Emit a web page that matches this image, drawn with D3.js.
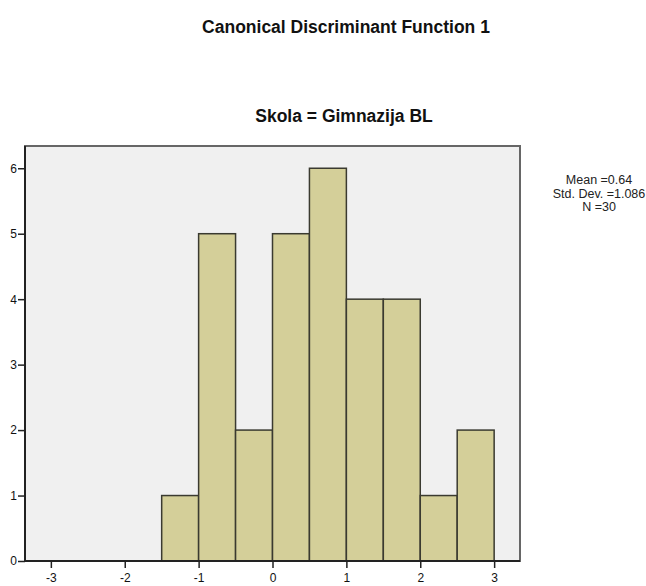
<!DOCTYPE html>
<html><head><meta charset="utf-8">
<script src="https://cdn.jsdelivr.net/npm/d3@7"></script>
<style>body{margin:0;background:#fff;} svg{display:block;font-family:"Liberation Sans",Arial,sans-serif;}</style>
</head><body>
<script>
const title = "Canonical Discriminant Function 1";
const subtitle = "Skola = Gimnazija BL";
const binStarts = [-1.5, -1.0, -0.5, 0.0, 0.5, 1.0, 1.5, 2.0, 2.5];
const binWidth = 0.5;
const counts = [1, 5, 2, 5, 6, 4, 4, 1, 2];
const xTicks = [-3, -2, -1, 0, 1, 2, 3];
const yTicks = [0, 1, 2, 3, 4, 5, 6];
const stats = ["Mean =0.64", "Std. Dev. =1.086", "N =30"];

const W = 646, H = 586;
const L = 25, R = 520, T = 146, B = 561;
const svg = d3.select("body").append("svg").attr("width", W).attr("height", H);

const x = d3.scaleLinear().domain([-3.35, 3.35]).range([L, R]);
const y = d3.scaleLinear().domain([0, 6.34]).range([B, T]);

svg.append("rect").attr("x", L).attr("y", T).attr("width", R - L).attr("height", B - T)
  .attr("fill", "#f0f0f0").attr("stroke", "#666").attr("stroke-width", 2);

svg.append("g").selectAll("rect").data(binStarts).join("rect")
  .attr("x", (d) => x(d))
  .attr("y", (d, i) => y(counts[i]))
  .attr("width", (d) => x(d + binWidth) - x(d))
  .attr("height", (d, i) => y(0) - y(counts[i]))
  .attr("fill", "#d4cf99").attr("stroke", "#3a3a30").attr("stroke-width", 1.5);

const fmt = d => String(d);
const xa = svg.append("g").attr("transform", `translate(0,${B})`)
  .call(d3.axisBottom(x).tickValues(xTicks).tickSize(7).tickSizeOuter(0).tickFormat(fmt));
const ya = svg.append("g").attr("transform", `translate(${L},0)`)
  .call(d3.axisLeft(y).tickValues(yTicks).tickSize(7).tickSizeOuter(0).tickFormat(fmt));
[xa, ya].forEach(a => {
  a.select(".domain").attr("stroke", "#222").attr("stroke-width", 2);
  a.selectAll(".tick line").attr("stroke", "#222").attr("stroke-width", 1.5);
  a.selectAll(".tick text").attr("font-size", 12).attr("fill", "#111")
    .attr("font-family", "'Liberation Sans', Arial, sans-serif");
});
xa.selectAll(".tick text").attr("dy", "0").attr("y", 20.5);
ya.selectAll(".tick text").attr("x", -8);
xa.select(".domain").attr("d", `M${L},0H${R}`);
ya.select(".domain").attr("d", `M0,${T}V${B}`);

svg.append("text").attr("x", 346).attr("y", 32.5).attr("text-anchor", "middle")
  .attr("font-size", 17.5).attr("font-weight", "bold").attr("fill", "#111").text(title);
svg.append("text").attr("x", 344).attr("y", 121.5).attr("text-anchor", "middle")
  .attr("font-size", 17.5).attr("font-weight", "bold").attr("fill", "#111").text(subtitle);

svg.append("g").selectAll("text").data(stats).join("text")
  .attr("x", 599).attr("y", (d, i) => 184 + i * 13.5).attr("text-anchor", "middle")
  .attr("font-size", 12.5).attr("fill", "#222").text(d => d);
</script>
</body></html>
